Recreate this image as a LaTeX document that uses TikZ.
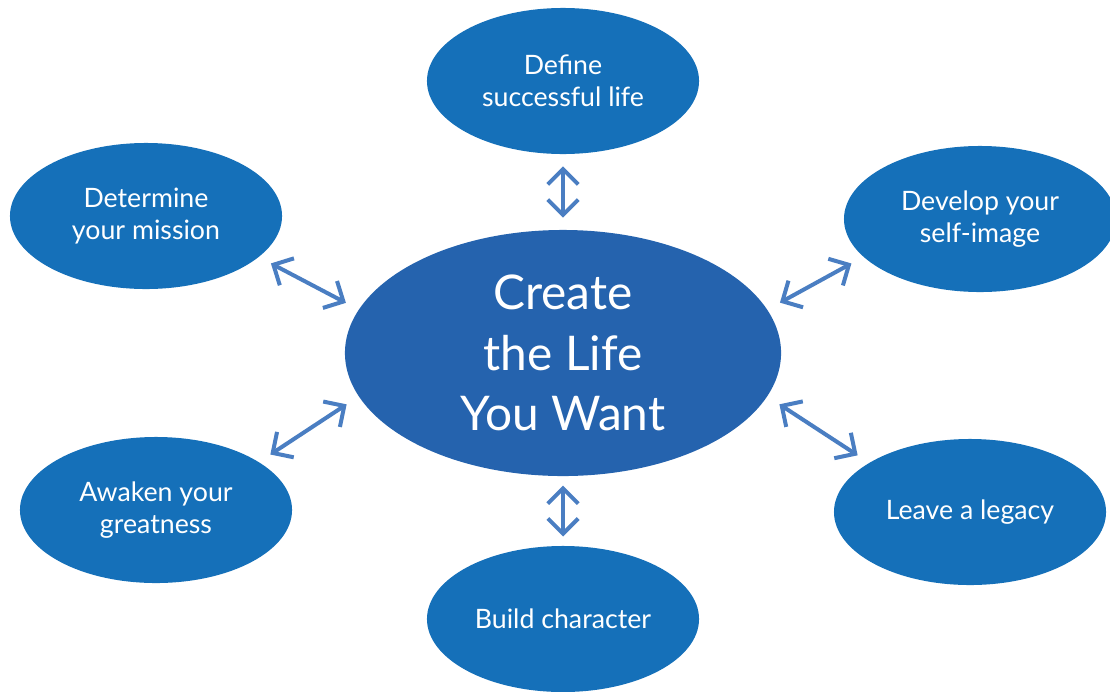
\documentclass[tikz,border=0pt]{standalone}
\usepackage{fontspec}
\setmainfont{Lato}
\usetikzlibrary{shapes.geometric,arrows.meta}

\definecolor{hubblue}{HTML}{2563AE}
\definecolor{goalblue}{HTML}{1570B9}
\definecolor{linkblue}{HTML}{4A7EC2}

\begin{document}
\begin{tikzpicture}[x = 0.025cm, y = -0.025cm,
    goal/.style = {ellipse, fill = goalblue, text = white,
        minimum width = 6.8cm, minimum height = 3.65cm, inner sep = 0pt,
        align = center, font = \fontsize{19}{22.5}\selectfont},
    link/.style = {draw = linkblue, line width = 0.1cm,
        {Straight Barb[length = 3.8mm, width = 7.6mm]}-{Straight Barb[length = 3.8mm, width = 7.6mm]},
        shorten < = 0.36cm, shorten > = 0.34cm}
]
        \useasboundingbox (0, 0) rectangle (1110, 691);

        % The big ellipse in the middle.
        \node[ellipse, fill = hubblue, text = white, inner sep = 0pt,
            minimum width = 10.9cm, minimum height = 6.15cm, align = center,
            font = \fontsize{34}{43}\selectfont] (hub) at (563, 353)
            {Create\\the Life\\You Want};

        % The six goals round it.
        \node[goal] (define)   at (563, 81)  {Define\\successful life};
        \node[goal] (mission)  at (146, 216) {Determine\\your mission};
        \node[goal] (image)    at (980, 219) {Develop your\\self-image};
        \node[goal] (awaken)   at (156, 510) {Awaken your\\greatness};
        \node[goal] (legacy)   at (970, 512) {Leave a legacy};
        \node[goal] (build)    at (563, 619) {Build character};

        % Double arrows between the hub and each goal.
        \draw[link, shorten < = 0.3cm, shorten > = 0.3cm] (hub.north) -- (define.south);
        \draw[link, shorten < = 0.23cm, shorten > = 0.23cm] (hub.south) -- (build.north);
        \draw[link] (hub.168) -- (mission.-20);
        \draw[link] (hub.192) -- (awaken.25);
        \draw[link] (hub.12) -- (image.198);
        \draw[link] (hub.-12) -- (legacy.154);
    \end{tikzpicture}
\end{document}
